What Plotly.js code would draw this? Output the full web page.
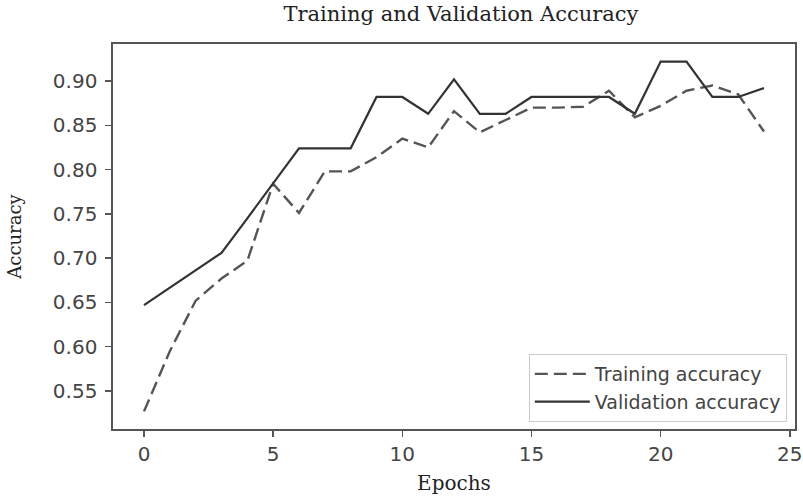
<!DOCTYPE html>
<html>
<head>
<meta charset="utf-8">
<script src="https://cdn.plot.ly/plotly-3.0.1.min.js"></script>
<style>
  html, body { margin: 0; padding: 0; background: #fff; }
  #chart { width: 803px; height: 499px; }
</style>
</head>
<body>
<div id="chart"></div>
<script>
const epochs = [0,1,2,3,4,5,6,7,8,9,10,11,12,13,14,15,16,17,18,19,20,21,22,23,24];
const trainingAccuracy = [0.527, 0.595, 0.652, 0.677, 0.697, 0.784, 0.751, 0.798, 0.798, 0.814, 0.835, 0.825, 0.866, 0.842, 0.856, 0.870, 0.870, 0.871, 0.889, 0.859, 0.872, 0.889, 0.895, 0.885, 0.843];
const validationAccuracy = [0.647, 0.667, 0.686, 0.706, 0.745, 0.784, 0.824, 0.824, 0.824, 0.882, 0.882, 0.863, 0.902, 0.863, 0.863, 0.882, 0.882, 0.882, 0.882, 0.863, 0.922, 0.922, 0.882, 0.882, 0.892];
const xTicks = [0, 5, 10, 15, 20, 25];
const yTicks = [0.55, 0.60, 0.65, 0.70, 0.75, 0.80, 0.85, 0.90];
const yTickLabels = ["0.55", "0.60", "0.65", "0.70", "0.75", "0.80", "0.85", "0.90"];

const traces = [
  {
    x: epochs, y: trainingAccuracy, type: 'scatter', mode: 'lines',
    name: 'Training accuracy',
    line: { color: '#555555', width: 2.4, dash: '13px,6px' }
  },
  {
    x: epochs, y: validationAccuracy, type: 'scatter', mode: 'lines',
    name: 'Validation accuracy',
    line: { color: '#333333', width: 2.2 }
  }
];

const serif = '"DejaVu Serif", "Liberation Serif", serif';
const sans = '"DejaVu Sans", sans-serif';

const layout = {
  width: 803, height: 499,
  margin: { l: 113, r: 8, t: 44, b: 70 },
  paper_bgcolor: '#ffffff', plot_bgcolor: '#ffffff',
  showlegend: true,
  title: {
    text: 'Training and Validation Accuracy',
    font: { family: serif, size: 21, color: '#222222' },
    x: 461 / 803, xanchor: 'center', xref: 'container',
    y: 1 - 14 / 499, yanchor: 'middle', yref: 'container'
  },
  xaxis: {
    range: [-1.2, 25.2],
    tickmode: 'array', tickvals: xTicks, ticktext: xTicks.map(String),
    showgrid: false, zeroline: false,
    showline: true, mirror: true, linecolor: '#555555', linewidth: 1.6,
    ticks: 'outside', ticklen: 6, tickwidth: 1.5, tickcolor: '#555555',
    tickfont: { family: sans, size: 20, color: '#444444' },
    title: { text: 'Epochs', font: { family: serif, size: 20, color: '#222222' }, standoff: 11 }
  },
  yaxis: {
    range: [0.5071, 0.9418],
    tickmode: 'array', tickvals: yTicks, ticktext: yTickLabels,
    showgrid: false, zeroline: false,
    showline: true, mirror: true, linecolor: '#555555', linewidth: 1.6,
    ticks: 'outside', ticklen: 6, tickwidth: 1.5, tickcolor: '#555555',
    ticklabelstandoff: 4,
    tickfont: { family: sans, size: 20, color: '#444444' },
    title: { text: 'Accuracy', font: { family: serif, size: 18, color: '#222222' }, standoff: 26 }
  },
  legend: {
    x: 0.988, y: 0.018, xanchor: 'right', yanchor: 'bottom',
    bgcolor: 'rgba(255,255,255,0.85)', bordercolor: '#cccccc', borderwidth: 1,
    font: { family: sans, size: 19, color: '#444444' },
    itemwidth: 55,
    tracegroupgap: 0
  }
};

Plotly.newPlot('chart', traces, layout, { displayModeBar: false, staticPlot: true });
</script>
</body>
</html>
